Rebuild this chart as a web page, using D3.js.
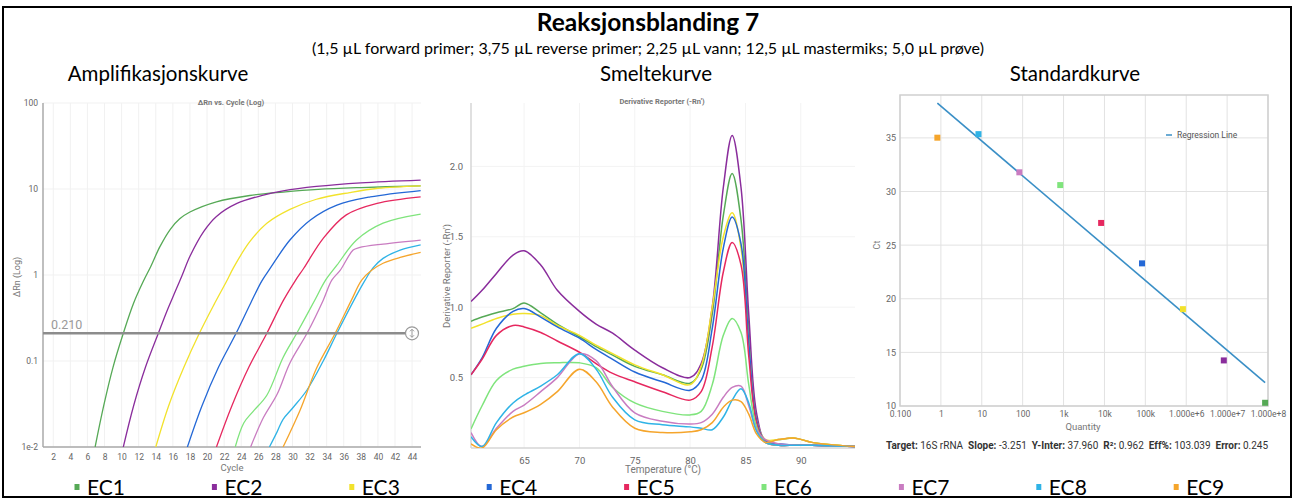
<!DOCTYPE html>
<html>
<head>
<meta charset="utf-8">
<script src="https://cdn.jsdelivr.net/npm/d3@7"></script>
<style>
  body { margin: 0; background: #fff; }
  .tick text { font-family: Roboto, sans-serif; fill: #666; }
  .heading { font-family: Lato, sans-serif; fill: #000; }
  .axis-title { font-family: Roboto, sans-serif; fill: #777; }
</style>
</head>
<body>
<div id="chart"></div>
<script>
var svgWidth = 1296;
var svgHeight = 500;

// Series
var seriesNames = ["EC1", "EC2", "EC3", "EC4", "EC5", "EC6", "EC7", "EC8", "EC9"];
var seriesColors = ["#56a956", "#8a2d9c", "#f2e22c", "#2468d6", "#e6285f", "#7fe47c", "#c97cc1", "#2fb3e6", "#f5a52c"];

// Amplification curves: [cycle, deltaRn]
var ampEC1 = [[6.9, 0.01], [7.9, 0.03], [9.0, 0.085], [10.2, 0.21], [11.4, 0.47], [12.6, 0.87], [13.4, 1.25], [14.5, 2.15], [15.7, 3.4], [16.8, 4.5], [18, 5.4], [21.1, 7.1], [25, 8.4], [28.9, 9.2], [33, 9.9], [38, 10.4], [45, 10.9]];
var ampEC2 = [[10.2, 0.01], [11.4, 0.03], [12.8, 0.085], [14.3, 0.21], [15.3, 0.38], [16.3, 0.65], [17.1, 1.0], [18, 1.65], [19.6, 3.2], [21.1, 4.8], [23.5, 6.8], [26.6, 8.5], [28.9, 9.5], [32.8, 10.7], [38, 11.8], [45, 12.7]];
var ampEC3 = [[14.0, 0.01], [15.5, 0.03], [17.3, 0.085], [19.1, 0.21], [20.8, 0.45], [22.3, 0.85], [23.1, 1.22], [25, 2.44], [27, 4.0], [29.7, 5.8], [32.8, 7.6], [36.7, 9.1], [40, 10.2], [45, 10.9]];
var ampEC4 = [[17.7, 0.01], [19.4, 0.03], [21.35, 0.085], [23.4, 0.21], [25.1, 0.47], [26.4, 0.85], [27.4, 1.2], [29.7, 2.55], [32.1, 4.37], [35.2, 6.5], [39.1, 8.1], [45, 9.6]];
var ampEC5 = [[21.1, 0.01], [22.9, 0.03], [24.9, 0.085], [27, 0.21], [28.9, 0.5], [30.3, 0.85], [31.3, 1.19], [33.6, 2.67], [36.3, 5.0], [39.9, 6.8], [45, 8.1]];
var ampEC6 = [[23.3, 0.01], [24.3, 0.019], [25.4, 0.026], [27, 0.04], [28.9, 0.11], [30.5, 0.21], [32.7, 0.53], [33.8, 0.85], [35.2, 1.3], [37.5, 2.55], [40.6, 4.0], [45, 5.1]];
var ampEC7 = [[25.1, 0.01], [26.6, 0.022], [28.2, 0.041], [29.7, 0.095], [31.7, 0.21], [33.6, 0.51], [34.6, 0.87], [35.6, 1.14], [37.1, 1.95], [37.8, 2.08], [40.6, 2.29], [45, 2.55]];
var ampEC8 = [[27.3, 0.01], [28.2, 0.015], [28.9, 0.021], [30.1, 0.029], [31.7, 0.046], [33.6, 0.1], [35.2, 0.21], [37.2, 0.51], [38.5, 0.87], [39.4, 1.2], [40.6, 1.56], [42.6, 1.95], [45, 2.24]];
var ampEC9 = [[28.9, 0.01], [30.9, 0.027], [32.8, 0.082], [35, 0.21], [36.9, 0.51], [38.1, 0.87], [39.3, 1.14], [40.6, 1.37], [42.6, 1.6], [45, 1.83]];
var ampCycleTicks = [2, 4, 6, 8, 10, 12, 14, 16, 18, 20, 22, 24, 26, 28, 30, 32, 34, 36, 38, 40, 42, 44];
var ampLogTicks = [0.01, 0.1, 1, 10, 100];
var ampLogLabels = ["1e-2", "0.1", "1", "10", "100"];
var threshold = 0.210;

// Melt curves: derivative reporter per temperature
var meltTemps = [60.2, 61.2, 62.5, 64, 65, 66.5, 68, 70, 71.5, 73, 75, 77.5, 80, 81, 82, 83, 83.8, 84.6, 85.3, 86, 86.8, 88, 89.5, 91, 94.9];
var meltEC1 = [0.90, 0.93, 0.96, 0.99, 1.03, 0.96, 0.88, 0.79, 0.72, 0.66, 0.58, 0.52, 0.46, 0.56, 0.95, 1.65, 1.95, 1.62, 0.85, 0.22, 0.05, 0.06, 0.07, 0.04, 0.01];
var meltEC2 = [1.04, 1.12, 1.24, 1.37, 1.40, 1.30, 1.12, 0.97, 0.88, 0.815, 0.695, 0.57, 0.50, 0.60, 1.00, 1.85, 2.22, 1.85, 0.95, 0.25, 0.05, 0.02, 0.02, 0.02, 0.01];
var meltEC3 = [0.85, 0.88, 0.92, 0.95, 0.955, 0.94, 0.87, 0.80, 0.73, 0.67, 0.59, 0.52, 0.45, 0.58, 1.00, 1.50, 1.67, 1.42, 0.75, 0.20, 0.06, 0.06, 0.07, 0.04, 0.01];
var meltEC4 = [0.52, 0.64, 0.85, 0.97, 0.99, 0.93, 0.86, 0.78, 0.70, 0.63, 0.54, 0.47, 0.41, 0.48, 0.85, 1.42, 1.64, 1.45, 0.75, 0.20, 0.05, 0.03, 0.02, 0.02, 0.01];
var meltEC5 = [0.52, 0.63, 0.80, 0.87, 0.86, 0.82, 0.76, 0.68, 0.60, 0.53, 0.47, 0.40, 0.34, 0.40, 0.72, 1.25, 1.46, 1.30, 0.65, 0.18, 0.04, 0.02, 0.02, 0.02, 0.01];
var meltEC6 = [0.135, 0.30, 0.48, 0.56, 0.58, 0.60, 0.605, 0.605, 0.57, 0.43, 0.32, 0.26, 0.235, 0.26, 0.45, 0.80, 0.92, 0.82, 0.45, 0.15, 0.04, 0.02, 0.02, 0.02, 0.01];
var meltEC7 = [0.11, 0.01, 0.14, 0.26, 0.305, 0.40, 0.50, 0.67, 0.62, 0.435, 0.25, 0.19, 0.17, 0.18, 0.24, 0.36, 0.43, 0.44, 0.30, 0.13, 0.06, 0.03, 0.02, 0.02, 0.01];
var meltEC8 = [0.08, 0.01, 0.18, 0.32, 0.375, 0.44, 0.52, 0.67, 0.56, 0.36, 0.20, 0.165, 0.15, 0.14, 0.13, 0.22, 0.34, 0.42, 0.32, 0.12, 0.04, 0.02, 0.02, 0.02, 0.01];
var meltEC9 = [0.03, 0.0, 0.13, 0.22, 0.25, 0.31, 0.40, 0.56, 0.47, 0.29, 0.14, 0.11, 0.115, 0.13, 0.18, 0.29, 0.34, 0.33, 0.24, 0.10, 0.04, 0.06, 0.07, 0.04, 0.01];
var meltTempTicks = [65, 70, 75, 80, 85, 90];
var meltValueTicks = [0.5, 1.0, 1.5, 2.0];

// Standard curve
var stdQuantity = [8.5e7, 8.3e6, 8.3e5, 8.3e4, 8.3e3, 830, 83, 8.3, 0.82];
var stdCt = [10.3, 14.25, 19.03, 23.3, 27.07, 30.6, 31.79, 35.35, 35.02];
var regSlope = -3.251;
var regIntercept = 37.960;
var stdQuantityTicks = [0.1, 1, 10, 100, 1e3, 1e4, 1e5, 1e6, 1e7, 1e8];
var stdQuantityLabels = ["0.100", "1", "10", "100", "1k", "10k", "100k", "1.000e+6", "1.000e+7", "1.000e+8"];
var stdCtTicks = [10, 15, 20, 25, 30, 35];
var statsLabels = ["Target:", "Slope:", "Y-Inter:", "R\u00b2:", "Eff%:", "Error:"];
var statsValues = ["16S rRNA", "-3.251", "37.960", "0.962", "103.039", "0.245"];

var ampSeries = [ampEC1, ampEC2, ampEC3, ampEC4, ampEC5, ampEC6, ampEC7, ampEC8, ampEC9];
var meltSeries = [meltEC1, meltEC2, meltEC3, meltEC4, meltEC5, meltEC6, meltEC7, meltEC8, meltEC9];

var svg = d3.select("#chart")
  .append("svg")
  .attr("width", svgWidth)
  .attr("height", svgHeight);

// outer frame
svg.append("rect")
  .attr("x", 3).attr("y", 7)
  .attr("width", 1288).attr("height", 490)
  .attr("fill", "none")
  .attr("stroke", "#000")
  .attr("stroke-width", 2);

// Headings
svg.append("text").attr("class", "heading")
  .attr("x", 648).attr("y", 31)
  .attr("text-anchor", "middle")
  .style("font-size", "24.5px").style("font-weight", "bold")
  .text("Reaksjonsblanding 7");

svg.append("text").attr("class", "heading")
  .attr("x", 648).attr("y", 54)
  .attr("text-anchor", "middle")
  .style("font-size", "16px")
  .text("(1,5 \u00b5L forward primer; 3,75 \u00b5L reverse primer; 2,25 \u00b5L vann; 12,5 \u00b5L mastermiks; 5,0 \u00b5L pr\u00f8ve)");

var panelTitles = [["Amplifikasjonskurve", 158], ["Smeltekurve", 656], ["Standardkurve", 1075]];
panelTitles.forEach(function(p) {
  svg.append("text").attr("class", "heading")
    .attr("x", p[1]).attr("y", 81)
    .attr("text-anchor", "middle")
    .style("font-size", "20.5px")
    .text(p[0]);
});

// ================= Amplification plot =================
var ampX = d3.scaleLinear().domain([0.8, 45.1]).range([43, 421.5]);
var ampY = d3.scaleLog().domain([0.01, 100]).range([447, 103]);

var ampGroup = svg.append("g");

ampGroup.selectAll("line.vgrid")
  .data(ampCycleTicks).enter().append("line")
  .attr("x1", d => ampX(d)).attr("x2", d => ampX(d))
  .attr("y1", 103).attr("y2", 447)
  .attr("stroke", "#f1f1f1");

ampGroup.selectAll("line.hgrid")
  .data(ampLogTicks).enter().append("line")
  .attr("x1", 43).attr("x2", 421)
  .attr("y1", d => ampY(d)).attr("y2", d => ampY(d))
  .attr("stroke", "#f1f1f1");

var ampXAxis = ampGroup.append("g")
  .attr("transform", "translate(0, 447)")
  .call(d3.axisBottom(ampX).tickValues(ampCycleTicks).tickSize(0).tickPadding(7));
ampXAxis.select(".domain").remove();
ampXAxis.selectAll("text").style("font-size", "8.5px");

var ampYAxis = ampGroup.append("g")
  .attr("transform", "translate(43, 0)")
  .call(d3.axisLeft(ampY).tickValues(ampLogTicks).tickSize(0).tickPadding(5)
    .tickFormat((d, i) => ampLogLabels[i]));
ampYAxis.select(".domain").remove();
ampYAxis.selectAll("text").style("font-size", "8.5px");

ampGroup.append("line")
  .attr("x1", 43).attr("x2", 43).attr("y1", 103).attr("y2", 447)
  .attr("stroke", "#aaa").attr("stroke-width", 1.5);
ampGroup.append("line")
  .attr("x1", 43).attr("x2", 421).attr("y1", 447).attr("y2", 447)
  .attr("stroke", "#aaa").attr("stroke-width", 1.5);

svg.append("clipPath").attr("id", "ampClip")
  .append("rect").attr("x", 43).attr("y", 103).attr("width", 378).attr("height", 344);

var ampLine = d3.line()
  .x(d => ampX(d[0]))
  .y(d => ampY(d[1]))
  .curve(d3.curveCatmullRom.alpha(0.5));

ampGroup.append("g").attr("clip-path", "url(#ampClip)")
  .selectAll("path")
  .data(ampSeries).enter().append("path")
  .attr("d", ampLine)
  .attr("fill", "none")
  .attr("stroke", (d, i) => seriesColors[i])
  .attr("stroke-width", 1.3);

// threshold
var thrY = ampY(threshold);
ampGroup.append("line")
  .attr("x1", 43).attr("x2", 406).attr("y1", thrY).attr("y2", thrY)
  .attr("stroke", "#8c8c8c").attr("stroke-width", 2.5);
ampGroup.append("circle")
  .attr("cx", 412).attr("cy", thrY).attr("r", 6.5)
  .attr("fill", "#fff").attr("stroke", "#9a9a9a").attr("stroke-width", 1.2);
ampGroup.append("path")
  .attr("d", `M412,${thrY - 4} L412,${thrY + 4} M410,${thrY - 2} L412,${thrY - 4} L414,${thrY - 2} M410,${thrY + 2} L412,${thrY + 4} L414,${thrY + 2}`)
  .attr("fill", "none").attr("stroke", "#9a9a9a").attr("stroke-width", 1);
ampGroup.append("text")
  .attr("x", 51).attr("y", thrY - 4)
  .style("font-family", "Roboto, sans-serif").style("font-size", "12.5px")
  .attr("fill", "#999")
  .text(threshold.toFixed(3));

ampGroup.append("text").attr("class", "axis-title")
  .attr("x", 231).attr("y", 105).attr("text-anchor", "middle")
  .style("font-size", "7.5px").style("font-weight", "bold")
  .text("\u0394Rn vs. Cycle (Log)");
ampGroup.append("text").attr("class", "axis-title")
  .attr("x", 232).attr("y", 471).attr("text-anchor", "middle")
  .style("font-size", "9.5px")
  .text("Cycle");
ampGroup.append("text").attr("class", "axis-title")
  .attr("transform", "translate(20, 277) rotate(-90)")
  .attr("text-anchor", "middle")
  .style("font-size", "9px")
  .text("\u0394Rn (Log)");

// ================= Melt curve =================
var meltX = d3.scaleLinear().domain([60.2, 94.9]).range([471, 855]);
var meltY = d3.scaleLinear().domain([0, 2.45]).range([448, 103]);

var meltGroup = svg.append("g");

meltGroup.selectAll("line.vgrid")
  .data(meltTempTicks).enter().append("line")
  .attr("x1", d => meltX(d)).attr("x2", d => meltX(d))
  .attr("y1", 103).attr("y2", 448)
  .attr("stroke", "#f3f3f3");
meltGroup.selectAll("line.hgrid")
  .data(meltValueTicks).enter().append("line")
  .attr("x1", 471).attr("x2", 855)
  .attr("y1", d => meltY(d)).attr("y2", d => meltY(d))
  .attr("stroke", "#f3f3f3");

var meltXAxis = meltGroup.append("g")
  .attr("transform", "translate(0, 448)")
  .call(d3.axisBottom(meltX).tickValues(meltTempTicks).tickSize(0).tickPadding(9));
meltXAxis.select(".domain").remove();
meltXAxis.selectAll("text").style("font-size", "9.5px");

var meltYAxis = meltGroup.append("g")
  .attr("transform", "translate(471, 0)")
  .call(d3.axisLeft(meltY).tickValues(meltValueTicks).tickSize(0).tickPadding(8).tickFormat(d3.format(".1f")));
meltYAxis.select(".domain").remove();
meltYAxis.selectAll("text").style("font-size", "9.5px");

meltGroup.append("line")
  .attr("x1", 471).attr("x2", 471).attr("y1", 103).attr("y2", 448)
  .attr("stroke", "#d6d6d6").attr("stroke-width", 1.5);
meltGroup.append("line")
  .attr("x1", 471).attr("x2", 855).attr("y1", 448).attr("y2", 448)
  .attr("stroke", "#d6d6d6").attr("stroke-width", 1.5);

svg.append("clipPath").attr("id", "meltClip")
  .append("rect").attr("x", 471).attr("y", 103).attr("width", 384).attr("height", 345);

var meltLine = d3.line()
  .x((d, i) => meltX(meltTemps[i]))
  .y(d => meltY(d))
  .curve(d3.curveCatmullRom.alpha(0.5));

meltGroup.append("g").attr("clip-path", "url(#meltClip)")
  .selectAll("path")
  .data(meltSeries).enter().append("path")
  .attr("d", meltLine)
  .attr("fill", "none")
  .attr("stroke", (d, i) => seriesColors[i])
  .attr("stroke-width", 1.5);

meltGroup.append("text").attr("class", "axis-title")
  .attr("x", 662).attr("y", 104).attr("text-anchor", "middle")
  .style("font-size", "7.5px").style("font-weight", "bold")
  .text("Derivative Reporter (-Rn')");
meltGroup.append("text").attr("class", "axis-title")
  .attr("x", 663).attr("y", 473).attr("text-anchor", "middle")
  .style("font-size", "10px")
  .text("Temperature (\u00b0C)");
meltGroup.append("text").attr("class", "axis-title")
  .attr("transform", "translate(450, 276) rotate(-90)")
  .attr("text-anchor", "middle")
  .style("font-size", "9.5px")
  .text("Derivative Reporter (-Rn')");

// ================= Standard curve =================
var stdX = d3.scaleLog().domain([0.1, 1e8]).range([900, 1268]);
var stdY = d3.scaleLinear().domain([10, 39]).range([406, 95]);

var stdGroup = svg.append("g");

stdGroup.selectAll("line.vgrid")
  .data(stdQuantityTicks).enter().append("line")
  .attr("x1", d => stdX(d)).attr("x2", d => stdX(d))
  .attr("y1", 95).attr("y2", 406)
  .attr("stroke", "#e2e2e2");
stdGroup.selectAll("line.hgrid")
  .data(stdCtTicks).enter().append("line")
  .attr("x1", 900).attr("x2", 1268)
  .attr("y1", d => stdY(d)).attr("y2", d => stdY(d))
  .attr("stroke", "#e2e2e2");

stdGroup.append("rect")
  .attr("x", 900).attr("y", 95).attr("width", 368).attr("height", 311)
  .attr("fill", "none").attr("stroke", "#cfcfcf").attr("stroke-width", 1.5);

var stdXAxis = stdGroup.append("g")
  .attr("transform", "translate(0, 406)")
  .call(d3.axisBottom(stdX).tickValues(stdQuantityTicks).tickSize(0).tickPadding(5)
    .tickFormat((d, i) => stdQuantityLabels[i]));
stdXAxis.select(".domain").remove();
stdXAxis.selectAll("text").style("font-size", "8.5px");

var stdYAxis = stdGroup.append("g")
  .attr("transform", "translate(900, 0)")
  .call(d3.axisLeft(stdY).tickValues(stdCtTicks).tickSize(0).tickPadding(4));
stdYAxis.select(".domain").remove();
stdYAxis.selectAll("text").style("font-size", "9px");

// regression line over the standards' range
var qExtent = d3.extent(stdQuantity);
stdGroup.append("line")
  .attr("x1", stdX(qExtent[0]))
  .attr("y1", stdY(regIntercept + regSlope * Math.log10(qExtent[0])))
  .attr("x2", stdX(qExtent[1]))
  .attr("y2", stdY(regIntercept + regSlope * Math.log10(qExtent[1])))
  .attr("stroke", "#3a8fc6").attr("stroke-width", 1.6);

stdGroup.selectAll("rect.pt")
  .data(stdQuantity).enter().append("rect")
  .attr("x", d => stdX(d) - 3)
  .attr("y", (d, i) => stdY(stdCt[i]) - 3)
  .attr("width", 6).attr("height", 6)
  .attr("fill", (d, i) => seriesColors[i]);

stdGroup.append("line")
  .attr("x1", 1166).attr("x2", 1172).attr("y1", 135).attr("y2", 135)
  .attr("stroke", "#3a8fc6").attr("stroke-width", 1.5);
stdGroup.append("text")
  .attr("x", 1177).attr("y", 138)
  .style("font-family", "Roboto, sans-serif").style("font-size", "8.5px")
  .attr("fill", "#555")
  .text("Regression Line");

stdGroup.append("text").attr("class", "axis-title")
  .attr("transform", "translate(880, 245) rotate(-90)")
  .attr("text-anchor", "middle")
  .style("font-size", "9px")
  .text("Ct");
stdGroup.append("text").attr("class", "axis-title")
  .attr("x", 1083).attr("y", 430).attr("text-anchor", "middle")
  .style("font-size", "9.5px")
  .text("Quantity");

var stats = stdGroup.append("text")
  .attr("x", 886).attr("y", 449)
  .style("font-family", "Roboto, sans-serif").style("font-size", "10px")
  .attr("fill", "#333");
statsLabels.forEach(function(label, i) {
  stats.append("tspan").style("font-weight", "bold").text((i > 0 ? "\u00a0\u00a0" : "") + label);
  stats.append("tspan").text(" " + statsValues[i]);
});

// ================= Legend =================
var legend = svg.append("g");
var legendItems = legend.selectAll("g")
  .data(seriesNames).enter().append("g")
  .attr("transform", (d, i) => `translate(${77 + i * 137.4}, 0)`);
legendItems.append("rect")
  .attr("x", -2.5).attr("y", 484)
  .attr("width", 5).attr("height", 6)
  .attr("fill", (d, i) => seriesColors[i]);
legendItems.append("text").attr("class", "heading")
  .attr("x", 10).attr("y", 495)
  .style("font-size", "21px")
  .text(d => d);
</script>
</body>
</html>
